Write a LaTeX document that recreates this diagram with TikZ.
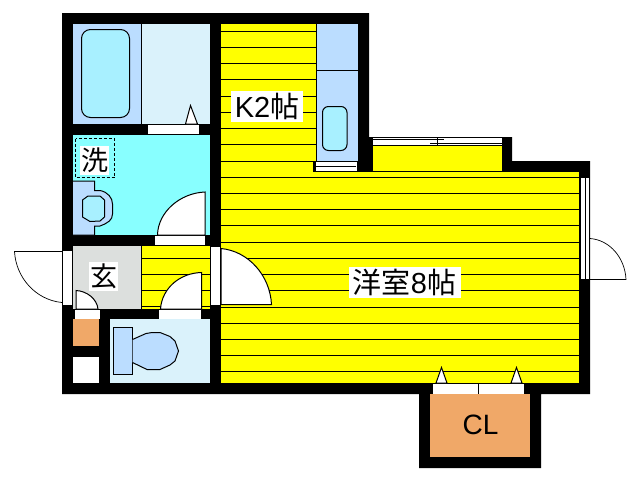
\documentclass[tikz,border=0pt]{standalone}
\usepackage{fontspec}
\setmainfont{Noto Sans CJK JP}
\newfontfamily\latinf{Liberation Sans}
\definecolor{floorY}{HTML}{FFFF00}
\definecolor{waterC}{HTML}{88FFFF}
\definecolor{paleB}{HTML}{DAF2FB}
\definecolor{fixtureB}{HTML}{BBDDFF}
\definecolor{basinB}{HTML}{A8F0FF}
\definecolor{clO}{HTML}{F0A868}
\definecolor{entryG}{HTML}{DCDFDD}
\tikzset{
  wall/.style={fill=black,draw=none},
  room/.style={draw=none},
  ln/.style={draw=black,line width=1pt},
  fx/.style={draw=black,line width=1pt},
  opening/.style={fill=white,draw=none},
  doorleaf/.style={fill=white,draw=black,line width=1pt},
  lab/.style={fill=white,text=black,inner sep=0pt,font=\fontsize{29}{29}\selectfont},
  labs/.style={fill=white,text=black,inner sep=0pt,font=\fontsize{27}{27}\selectfont},
}
\begin{document}
\begin{tikzpicture}[x=1pt,y=-1pt]
\useasboundingbox (0,0) rectangle (640,480);
\fill[white] (0,0) rectangle (640,480);
% walls silhouette
\path[wall] (62,13) -- (369,13) -- (369,137) -- (512,137) -- (512,161) -- (590,161) -- (590,394) -- (541,394) -- (541,468) -- (419,468) -- (419,394) -- (62,394) -- cycle;
% bath
\path[room,fill=fixtureB] (73,24) rectangle (141,124);
\path[room,fill=paleB] (141,24) rectangle (210,124);
\draw[ln] (141.5,24) -- (141.5,124);
\draw[fx,fill=basinB,rounded corners=9pt] (81.5,29.5) rectangle (129.5,117.5);
\path[opening] (148,125) rectangle (199,134);
\draw[doorleaf] (185.5,124) -- (190.5,105.5) -- (197.5,124) -- cycle;
% washroom
\path[room,fill=waterC] (73,135) rectangle (210,235);
\draw[fx,fill=fixtureB] (73,181) -- (94.5,181) -- (94.5,190.5) -- (100,190.5) .. controls (108,192) and (112.5,198) .. (112.5,204) -- (112.5,214) .. controls (112.5,220) and (108,223) .. (100,226) -- (94.5,226) -- (94.5,235) -- (73,235);
\draw[fx,fill=basinB] (82.5,200) -- (88,196) -- (100,196) -- (104.5,200) -- (104.5,217) -- (100,221) -- (90,221.5) -- (82.5,217) -- cycle;
\draw[black,line width=1pt,dash pattern=on 3pt off 2pt] (75.5,138.5) rectangle (114.5,177.5);
\node[labs,minimum width=29pt,minimum height=29pt] (wash) at (94.5,160.5) {洗};
\path[opening] (155,236) rectangle (205,245);
\draw[doorleaf] (205,192) .. controls (180,193) and (158,212) .. (157.5,235) -- (205,235) -- cycle;
% kitchen
\path[room,fill=floorY] (221,24) rectangle (316,172);
\path[room,fill=fixtureB] (316,24) rectangle (358,161);
\draw[ln] (316.5,24) -- (316.5,161) (316,70.5) -- (358,70.5);
\draw[fx,fill=basinB,rounded corners=6pt] (322.5,106.5) rectangle (347,150.5);
\foreach \yy in {31.5,47.5,63.5,79.5,96,112,128,144.5,161.5}
  \draw[ln] (221,\yy) -- (316,\yy);
\path[wall] (313,161) rectangle (316,172);
\path[opening] (316,162) rectangle (356,171);
\draw[ln] (316,166.5) -- (356,166.5);
\draw[white,line width=0.8pt] (356,162) -- (356,172);
% main room
\path[room,fill=floorY] (221,172) rectangle (579,383);
\path[room,fill=floorY] (373,145) rectangle (502,172);
\draw[ln] (313,171.5) -- (579,171.5);
\foreach \yy in {177.5,193.5,209.5,225.5,242,258,274,290,307,323,339,355,371.5}
  \draw[ln] (221,\yy) -- (579,\yy);
% upper window
\path[opening] (373,138) rectangle (502,145);
\draw[ln] (373,139.5) -- (444,139.5) (430,143.5) -- (502,143.5) (437.5,138) -- (437.5,145) (373,145) -- (502,145);
% right window and door
\path[opening] (580,178) rectangle (590,279);
\draw[ln] (580,178) -- (580,279) (585,178) -- (585,279) (589.5,178) -- (589.5,279);
\draw[ln,line width=0.7pt] (590,238.5) .. controls (610,240) and (625,258) .. (626,279.5) -- (590,279.5);
% closet
\path[room,fill=clO] (430,394) rectangle (530,457);
\path[opening] (433,384) rectangle (524,394);
\draw[ln] (478.5,384) -- (478.5,394);
\draw[doorleaf] (436,383) -- (441.5,367.5) -- (447,383) -- cycle;
\draw[doorleaf] (511,383) -- (516.5,367.5) -- (522,383) -- cycle;
% entry
\path[room,fill=entryG] (73,246) rectangle (141,309);
\path[room,fill=floorY] (141,246) rectangle (210,309);
\draw[ln] (141.5,246) -- (141.5,309);
\foreach \yy in {258.5,274.5,290.5,306.5}
  \draw[ln] (141,\yy) -- (210,\yy);
\path[opening] (62.5,251) rectangle (72,305);
\draw[ln,line width=0.7pt] (62,251.5) -- (14.5,251.5) .. controls (16,278) and (36,300) .. (62,302.5);
\path[opening] (75,310) rectangle (100,319);
\draw[doorleaf] (76,290.5) .. controls (87,291) and (97,299) .. (98,309) -- (76,309) -- cycle;
\path[opening] (159,310) rectangle (201,319);
\draw[doorleaf] (201.5,272.5) .. controls (180,273) and (162,288) .. (160.5,309) -- (201.5,309) -- cycle;
% door to main room
\path[opening] (211,247) rectangle (220,305);
\draw[doorleaf] (221,248.5) .. controls (248,251) and (270,275) .. (271.5,304.5) -- (221,304.5) -- cycle;
% small cupboards
\path[room,fill=clO] (73,319) rectangle (99,346);
\path[opening] (73,357) rectangle (99,383);
% toilet
\path[room,fill=paleB] (110,319) rectangle (210,383);
\draw[fx,fill=fixtureB] (113.5,327.5) rectangle (132.5,374.5);
\draw[fx,fill=fixtureB] (132.5,339.5) -- (146,333.5) -- (152,332.5) -- (160,332.5) -- (170,336.5) -- (175,341) -- (178.5,351) -- (175,361) -- (170,365) -- (160,369.5) -- (147,369.5) -- (132.5,362.5);
% labels
\node[lab,minimum width=72pt,minimum height=31pt] (k2) at (267,106.5) {{\latinf K2}帖};
\node[lab,minimum width=112pt,minimum height=31pt] (main) at (404.5,282.5) {洋室{\latinf 8}帖};
\node[labs,minimum width=29pt,minimum height=29pt] (gen) at (103.5,276.5) {玄};
\node[text=black,font=\latinf\fontsize{28}{28}\selectfont,inner sep=0pt] (cl) at (480.5,425) {CL};
\end{tikzpicture}
\end{document}
